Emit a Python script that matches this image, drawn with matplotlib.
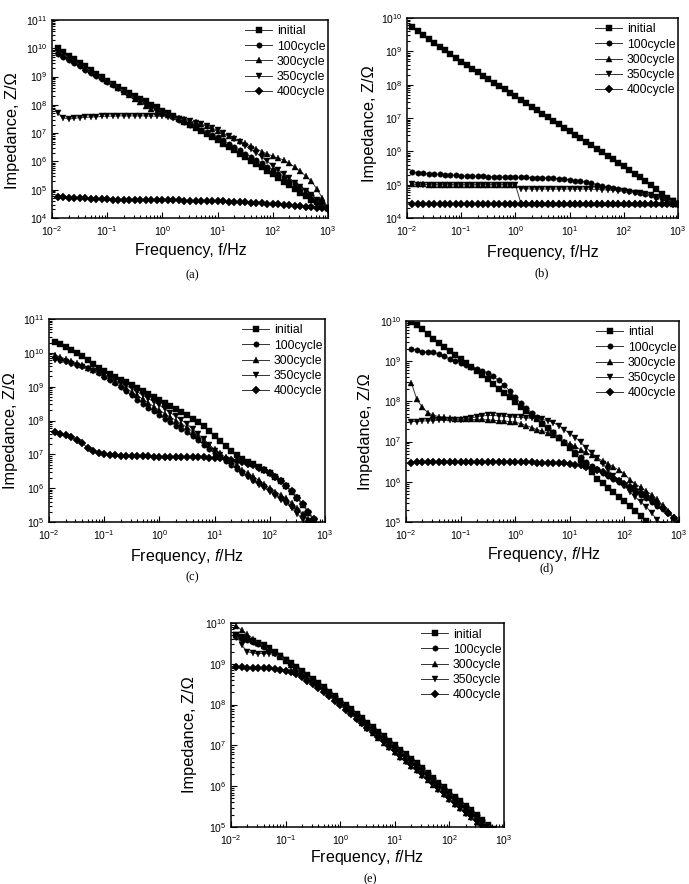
import numpy as np
import matplotlib
matplotlib.use('Agg')
import matplotlib.pyplot as plt
from matplotlib.ticker import LogLocator, NullFormatter

plt.rcParams['font.family'] = ['Liberation Sans', 'DejaVu Sans']
plt.rcParams['mathtext.fontset'] = 'custom'
plt.rcParams['mathtext.rm'] = 'Liberation Sans'
plt.rcParams['mathtext.it'] = 'Liberation Sans:italic'
plt.rcParams['mathtext.default'] = 'regular'

# ---------------- data ----------------
freq = [0.0126, 0.0158, 0.0200, 0.0251, 0.0316, 0.0398, 0.0501, 0.0631, 0.0794, 0.100,
        0.126, 0.158, 0.200, 0.251, 0.316, 0.398, 0.501, 0.631, 0.794, 1.00,
        1.26, 1.58, 2.00, 2.51, 3.16, 3.98, 5.01, 6.31, 7.94, 10.0,
        12.6, 15.8, 20.0, 25.1, 31.6, 39.8, 50.1, 63.1, 79.4, 100.0,
        126, 158, 200, 251, 316, 398, 501, 631, 794, 1000]

labels = ['initial', '100cycle', '300cycle', '350cycle', '400cycle']
labels_d = ['intial', '100cycle', '300cycle', '350cycle', '400cycle']
captions = ['(a)', '(b)', '(c)', '(d)', '(e)']

# log10 |Z| (Ohm)
a_initial = [10.00, 9.87, 9.74, 9.61, 9.49, 9.36, 9.23, 9.10, 8.98, 8.85,
             8.75, 8.64, 8.54, 8.43, 8.33, 8.22, 8.12, 8.01, 7.91, 7.80,
             7.70, 7.59, 7.49, 7.38, 7.28, 7.17, 7.07, 6.96, 6.86, 6.75,
             6.63, 6.51, 6.39, 6.27, 6.15, 6.03, 5.91, 5.79, 5.67, 5.55,
             5.42, 5.29, 5.16, 5.03, 4.90, 4.78, 4.65, 4.55, 4.45, 4.35]
a_100 = [9.80, 9.69, 9.58, 9.47, 9.36, 9.24, 9.13, 9.02, 8.91, 8.80,
         8.70, 8.59, 8.49, 8.38, 8.28, 8.17, 8.07, 7.96, 7.86, 7.75,
         7.66, 7.57, 7.48, 7.39, 7.30, 7.21, 7.12, 7.03, 6.94, 6.85,
         6.74, 6.62, 6.51, 6.39, 6.28, 6.16, 6.05, 5.93, 5.82, 5.70,
         5.57, 5.44, 5.31, 5.19, 5.06, 4.93, 4.80, 4.65, 4.50, 4.35]
a_300 = [9.90, 9.78, 9.67, 9.55, 9.43, 9.32, 9.20, 9.08, 8.97, 8.85,
         8.73, 8.60, 8.47, 8.34, 8.22, 8.09, 7.96, 7.84, 7.76, 7.70,
         7.65, 7.60, 7.55, 7.50, 7.44, 7.38, 7.32, 7.24, 7.15, 7.06,
         6.98, 6.90, 6.82, 6.73, 6.64, 6.55, 6.45, 6.35, 6.27, 6.18,
         6.12, 6.05, 5.93, 5.80, 5.65, 5.48, 5.30, 5.02, 4.70, 4.35]
a_350 = [7.72, 7.55, 7.50, 7.52, 7.55, 7.56, 7.57, 7.58, 7.59, 7.60,
         7.60, 7.61, 7.61, 7.61, 7.61, 7.61, 7.61, 7.60, 7.60, 7.60,
         7.57, 7.54, 7.50, 7.46, 7.42, 7.37, 7.32, 7.25, 7.18, 7.10,
         7.00, 6.90, 6.80, 6.68, 6.55, 6.43, 6.30, 6.15, 6.00, 5.85,
         5.70, 5.55, 5.40, 5.25, 5.10, 4.95, 4.80, 4.65, 4.50, 4.35]
a_400 = [4.75, 4.74, 4.72, 4.71, 4.70, 4.69, 4.68, 4.67, 4.66, 4.66,
         4.65, 4.65, 4.64, 4.64, 4.63, 4.63, 4.63, 4.62, 4.62, 4.62,
         4.62, 4.62, 4.62, 4.61, 4.61, 4.61, 4.61, 4.60, 4.60, 4.60,
         4.59, 4.58, 4.57, 4.56, 4.55, 4.54, 4.53, 4.52, 4.51, 4.50,
         4.49, 4.47, 4.46, 4.44, 4.42, 4.40, 4.38, 4.36, 4.35, 4.33]

b_initial = [9.72, 9.60, 9.49, 9.37, 9.26, 9.14, 9.03, 8.91, 8.80, 8.68,
             8.58, 8.48, 8.37, 8.27, 8.17, 8.06, 7.96, 7.86, 7.75, 7.65,
             7.55, 7.44, 7.34, 7.23, 7.13, 7.02, 6.92, 6.81, 6.71, 6.60,
             6.50, 6.39, 6.29, 6.18, 6.08, 5.97, 5.87, 5.76, 5.66, 5.55,
             5.44, 5.33, 5.22, 5.11, 5.00, 4.86, 4.72, 4.60, 4.50, 4.42]
b_100 = [5.37, 5.36, 5.34, 5.33, 5.32, 5.31, 5.30, 5.29, 5.28, 5.27,
         5.26, 5.26, 5.25, 5.25, 5.24, 5.24, 5.23, 5.23, 5.22, 5.22,
         5.22, 5.22, 5.21, 5.21, 5.20, 5.20, 5.19, 5.18, 5.17, 5.15,
         5.12, 5.10, 5.07, 5.04, 5.00, 4.96, 4.92, 4.89, 4.86, 4.83,
         4.80, 4.77, 4.74, 4.71, 4.68, 4.64, 4.60, 4.55, 4.50, 4.43]
b_300 = [5.02, 5.01, 5.01, 5.00, 5.00, 5.00, 5.00, 5.00, 5.00, 5.00,
         5.00, 5.00, 5.00, 5.00, 5.00, 5.00, 5.00, 5.00, 5.00, 5.00,
         4.45, 4.45, 4.45, 4.45, 4.45, 4.45, 4.45, 4.45, 4.45, 4.45,
         4.45, 4.45, 4.45, 4.45, 4.45, 4.45, 4.45, 4.45, 4.45, 4.45,
         4.45, 4.45, 4.45, 4.45, 4.45, 4.44, 4.44, 4.44, 4.43, 4.43]
b_350 = [5.01, 5.00, 5.00, 4.99, 4.99, 4.99, 4.99, 4.99, 4.99, 4.99,
         4.99, 4.99, 4.99, 4.99, 4.99, 4.99, 4.99, 4.99, 4.99, 4.99,
         4.88, 4.88, 4.87, 4.87, 4.87, 4.87, 4.87, 4.87, 4.87, 4.87,
         4.87, 4.87, 4.87, 4.86, 4.86, 4.85, 4.84, 4.83, 4.82, 4.80,
         4.78, 4.76, 4.74, 4.71, 4.68, 4.64, 4.60, 4.55, 4.50, 4.43]
b_400 = [4.43, 4.43, 4.43, 4.43, 4.43, 4.43, 4.43, 4.43, 4.43, 4.43,
         4.43, 4.43, 4.43, 4.43, 4.43, 4.43, 4.43, 4.43, 4.43, 4.43,
         4.43, 4.43, 4.43, 4.43, 4.43, 4.43, 4.43, 4.43, 4.43, 4.43,
         4.43, 4.43, 4.43, 4.43, 4.43, 4.43, 4.43, 4.43, 4.43, 4.43,
         4.43, 4.43, 4.43, 4.43, 4.43, 4.43, 4.42, 4.42, 4.42, 4.42]

c_initial = [10.33, 10.25, 10.17, 10.09, 10.00, 9.90, 9.79, 9.68, 9.56, 9.45,
             9.37, 9.29, 9.21, 9.13, 9.05, 8.96, 8.87, 8.78, 8.69, 8.60,
             8.51, 8.42, 8.33, 8.24, 8.15, 8.05, 7.95, 7.85, 7.70, 7.55,
             7.40, 7.25, 7.10, 6.98, 6.85, 6.78, 6.70, 6.62, 6.54, 6.45,
             6.33, 6.20, 6.05, 5.90, 5.70, 5.50, 5.27, 5.05, 4.85, 4.65]
c_100 = [9.85, 9.80, 9.75, 9.70, 9.65, 9.60, 9.55, 9.48, 9.40, 9.30,
         9.20, 9.10, 9.00, 8.88, 8.75, 8.62, 8.50, 8.38, 8.27, 8.15,
         8.05, 7.95, 7.85, 7.75, 7.65, 7.53, 7.41, 7.29, 7.17, 7.05,
         6.93, 6.81, 6.69, 6.57, 6.45, 6.35, 6.25, 6.15, 6.05, 5.95,
         5.83, 5.71, 5.59, 5.47, 5.35, 5.20, 5.05, 4.90, 4.75, 4.60]
c_300 = [9.95, 9.88, 9.82, 9.76, 9.70, 9.63, 9.56, 9.49, 9.42, 9.35,
         9.25, 9.15, 9.05, 8.95, 8.85, 8.74, 8.63, 8.52, 8.41, 8.30,
         8.20, 8.10, 8.00, 7.90, 7.80, 7.67, 7.54, 7.41, 7.28, 7.15,
         7.03, 6.91, 6.79, 6.67, 6.55, 6.45, 6.35, 6.23, 6.12, 6.00,
         5.90, 5.80, 5.70, 5.55, 5.40, 5.24, 5.08, 4.90, 4.72, 4.55]
c_350 = [9.80, 9.76, 9.72, 9.67, 9.62, 9.57, 9.51, 9.45, 9.40, 9.35,
         9.27, 9.19, 9.11, 9.03, 8.95, 8.85, 8.75, 8.65, 8.55, 8.45,
         8.34, 8.23, 8.12, 8.01, 7.90, 7.75, 7.60, 7.45, 7.28, 7.10,
         6.97, 6.84, 6.71, 6.58, 6.45, 6.33, 6.20, 6.10, 6.00, 5.90,
         5.78, 5.66, 5.55, 5.40, 5.25, 5.05, 4.90, 4.75, 4.60, 4.45]
c_400 = [7.65, 7.61, 7.56, 7.50, 7.43, 7.33, 7.20, 7.10, 7.04, 7.00,
         6.98, 6.97, 6.96, 6.95, 6.95, 6.94, 6.94, 6.94, 6.93, 6.93,
         6.93, 6.93, 6.92, 6.92, 6.92, 6.92, 6.91, 6.91, 6.90, 6.90,
         6.88, 6.86, 6.83, 6.80, 6.76, 6.72, 6.67, 6.61, 6.54, 6.46,
         6.34, 6.21, 6.06, 5.91, 5.72, 5.52, 5.30, 5.08, 4.88, 4.68]

d_initial = [9.98, 9.90, 9.80, 9.68, 9.55, 9.45, 9.35, 9.25, 9.15, 9.05,
             8.95, 8.85, 8.75, 8.65, 8.55, 8.44, 8.32, 8.21, 8.10, 7.98,
             7.87, 7.77, 7.66, 7.56, 7.45, 7.33, 7.21, 7.09, 6.97, 6.85,
             6.70, 6.55, 6.40, 6.24, 6.07, 5.96, 5.85, 5.74, 5.63, 5.52,
             5.40, 5.28, 5.16, 5.02, 4.88, 4.74, 4.60, 4.45, 4.30, 4.15]
d_100 = [9.30, 9.28, 9.22, 9.24, 9.22, 9.18, 9.12, 9.06, 9.01, 8.96,
         8.91, 8.86, 8.81, 8.76, 8.70, 8.62, 8.52, 8.40, 8.26, 8.10,
         7.96, 7.84, 7.72, 7.60, 7.47, 7.35, 7.23, 7.11, 6.99, 6.88,
         6.75, 6.62, 6.50, 6.40, 6.31, 6.23, 6.15, 6.07, 5.99, 5.91,
         5.83, 5.75, 5.67, 5.59, 5.50, 5.41, 5.32, 5.22, 5.10, 4.95]
d_300 = [8.45, 8.05, 7.85, 7.72, 7.66, 7.62, 7.60, 7.58, 7.56, 7.55,
         7.55, 7.55, 7.55, 7.55, 7.54, 7.53, 7.52, 7.51, 7.50, 7.48,
         7.45, 7.40, 7.35, 7.30, 7.26, 7.21, 7.16, 7.08, 7.00, 6.93,
         6.88, 6.80, 6.73, 6.66, 6.60, 6.52, 6.45, 6.37, 6.29, 6.20,
         6.05, 5.95, 5.86, 5.77, 5.68, 5.56, 5.42, 5.28, 5.12, 4.95]
d_350 = [7.50, 7.50, 7.51, 7.52, 7.52, 7.53, 7.53, 7.53, 7.53, 7.54,
         7.56, 7.59, 7.62, 7.64, 7.65, 7.65, 7.64, 7.63, 7.62, 7.61,
         7.60, 7.59, 7.58, 7.57, 7.55, 7.52, 7.47, 7.40, 7.30, 7.20,
         7.10, 6.98, 6.85, 6.72, 6.60, 6.45, 6.30, 6.15, 6.02, 5.90,
         5.75, 5.62, 5.50, 5.38, 5.22, 5.06, 4.92, 4.78, 4.65, 4.50]
d_400 = [6.48, 6.50, 6.50, 6.50, 6.50, 6.50, 6.50, 6.50, 6.50, 6.50,
         6.50, 6.50, 6.50, 6.50, 6.50, 6.50, 6.50, 6.50, 6.49, 6.49,
         6.49, 6.49, 6.49, 6.48, 6.48, 6.48, 6.48, 6.47, 6.46, 6.45,
         6.43, 6.41, 6.38, 6.34, 6.30, 6.24, 6.17, 6.10, 6.03, 5.95,
         5.87, 5.80, 5.72, 5.64, 5.55, 5.45, 5.35, 5.22, 5.10, 4.98]

e_initial = [9.70, 9.65, 9.60, 9.55, 9.50, 9.45, 9.38, 9.30, 9.20, 9.10,
             9.01, 8.92, 8.82, 8.72, 8.62, 8.52, 8.42, 8.31, 8.21, 8.10,
             7.99, 7.88, 7.77, 7.66, 7.55, 7.44, 7.33, 7.22, 7.11, 7.00,
             6.89, 6.78, 6.67, 6.56, 6.45, 6.33, 6.21, 6.09, 5.97, 5.85,
             5.74, 5.63, 5.52, 5.41, 5.30, 5.18, 5.06, 4.95, 4.84, 4.73]
e_100 = [9.66, 9.62, 9.58, 9.53, 9.48, 9.42, 9.35, 9.27, 9.18, 9.09,
         9.00, 8.91, 8.81, 8.71, 8.61, 8.51, 8.41, 8.30, 8.20, 8.09,
         7.98, 7.87, 7.76, 7.65, 7.54, 7.43, 7.32, 7.21, 7.10, 6.99,
         6.88, 6.77, 6.66, 6.55, 6.44, 6.32, 6.20, 6.08, 5.96, 5.84,
         5.73, 5.62, 5.51, 5.40, 5.29, 5.17, 5.05, 4.94, 4.83, 4.72]
e_300 = [9.93, 9.82, 9.72, 9.62, 9.52, 9.43, 9.35, 9.26, 9.17, 9.08,
         8.98, 8.88, 8.78, 8.68, 8.58, 8.47, 8.36, 8.25, 8.14, 8.03,
         7.91, 7.79, 7.67, 7.55, 7.43, 7.31, 7.19, 7.07, 6.95, 6.83,
         6.72, 6.61, 6.50, 6.39, 6.28, 6.16, 6.04, 5.92, 5.80, 5.68,
         5.57, 5.46, 5.35, 5.24, 5.13, 5.01, 4.90, 4.79, 4.68, 4.57]
e_350 = [9.70, 9.45, 9.30, 9.26, 9.25, 9.25, 9.25, 9.23, 9.18, 9.10,
         9.00, 8.90, 8.80, 8.69, 8.58, 8.47, 8.36, 8.25, 8.14, 8.03,
         7.90, 7.78, 7.66, 7.54, 7.42, 7.30, 7.18, 7.06, 6.94, 6.82,
         6.70, 6.59, 6.48, 6.37, 6.26, 6.14, 6.02, 5.90, 5.78, 5.66,
         5.55, 5.44, 5.33, 5.22, 5.11, 4.99, 4.88, 4.77, 4.66, 4.55]
e_400 = [8.93, 8.91, 8.90, 8.90, 8.90, 8.89, 8.89, 8.88, 8.86, 8.83,
         8.79, 8.74, 8.67, 8.59, 8.50, 8.41, 8.31, 8.20, 8.09, 7.98,
         7.87, 7.76, 7.65, 7.54, 7.43, 7.32, 7.21, 7.10, 6.99, 6.88,
         6.77, 6.66, 6.55, 6.44, 6.33, 6.21, 6.09, 5.97, 5.85, 5.73,
         5.62, 5.51, 5.40, 5.29, 5.18, 5.06, 4.94, 4.83, 4.72, 4.61]

panels = [
    [a_initial, a_100, a_300, a_350, a_400],
    [b_initial, b_100, b_300, b_350, b_400],
    [c_initial, c_100, c_300, c_350, c_400],
    [d_initial, d_100, d_300, d_350, d_400],
    [e_initial, e_100, e_300, e_350, e_400],
]
ylims = [(1e4, 1e11), (1e4, 1e10), (1e5, 1e11), (1e5, 1e10), (1e5, 1e10)]

# ---------------- layout ----------------
W, H = 689, 884
fig = plt.figure(figsize=(W / 100, H / 100), dpi=100)

# pixel boxes: (left, top, right, bottom)
boxes = [(52, 20, 328, 218), (407, 18, 678, 218), (49, 319, 325, 522),
         (406, 321, 679, 522), (231, 623, 504, 827)]
# y-label anchor = right edge of the rotated text (axes fraction)
ylab_pos = [(-0.116, 0.44), (-0.111, 0.47), (-0.112, 0.45), (-0.121, 0.45), (-0.125, 0.455)]
xlab_pos = [(0.504, -0.125), (0.502, -0.133), (0.50, -0.125), (0.505, -0.112), (0.498, -0.105)]
cap_pos = [(192, 275), (542, 273), (192, 577), (547, 568), (370, 879)]
italic_f = [False, False, True, True, True]

markers = ['s', 'o', '^', 'v', 'D']
msizes = [3.7, 3.9, 4.3, 4.3, 3.7]

for i, (l, t, r, b) in enumerate(boxes):
    ax = fig.add_axes([l / W, 1 - b / H, (r - l) / W, (b - t) / H])
    labs = labels_d if i == 3 else labels
    for s, ser in enumerate(panels[i]):
        ax.plot(freq, np.power(10.0, ser), marker=markers[s], ms=msizes[s],
                color='#333333', mfc='black', mec='black', mew=0.3,
                lw=0.7, label=labs[s])
    ax.set_xscale('log')
    ax.set_yscale('log')
    ax.set_xlim(1e-2, 1e3)
    ax.set_ylim(*ylims[i])
    ax.xaxis.set_major_locator(LogLocator(base=10, numticks=20))
    ax.yaxis.set_major_locator(LogLocator(base=10, numticks=20))
    ax.xaxis.set_minor_locator(LogLocator(base=10, subs=np.arange(2, 10), numticks=20))
    ax.yaxis.set_minor_locator(LogLocator(base=10, subs=np.arange(2, 10), numticks=20))
    ax.xaxis.set_minor_formatter(NullFormatter())
    ax.yaxis.set_minor_formatter(NullFormatter())
    ax.tick_params(which='both', direction='in', top=False, right=False,
                   labelsize=7.5, width=0.8)
    ax.tick_params(which='major', length=4)
    ax.tick_params(axis='x', which='major', pad=4.5)
    ax.tick_params(axis='y', which='major', pad=3.5)
    ax.tick_params(which='minor', length=2)
    for sp in ax.spines.values():
        sp.set_linewidth(1.1)
    fstr = r'$\mathit{f}$' if italic_f[i] else 'f'
    ax.set_xlabel('Frequency, ' + fstr + '/Hz', fontsize=11.5)
    ax.set_ylabel('Impedance, Z/Ω', fontsize=11.8)
    ax.xaxis.set_label_coords(*xlab_pos[i])
    ax.yaxis.set_label_coords(*ylab_pos[i])
    ax.legend(loc='upper right', bbox_to_anchor=(1.0, 0.985), frameon=False,
              fontsize=8.8, handlelength=2.2, handletextpad=0.4,
              labelspacing=0.26, borderaxespad=0.1, borderpad=0.1)
    cx, cy = cap_pos[i]
    fig.text(cx / W, 1 - cy / H, captions[i], ha='center', va='center',
             fontsize=9, family=['Liberation Serif', 'DejaVu Serif'])

fig.savefig('out.png', dpi=100)
